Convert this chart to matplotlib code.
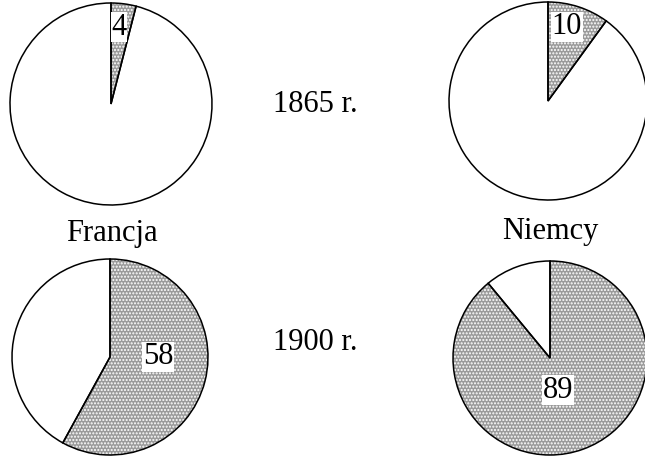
import matplotlib
matplotlib.use("Agg")
import matplotlib.pyplot as plt

plt.rcParams["font.family"] = ["Liberation Serif", "DejaVu Serif"]

# ── dane ──────────────────────────────────────────────────────────────────────
countries = ["Francja", "Niemcy"]
years = ["1865 r.", "1900 r."]
share_1865 = [4, 10]
share_1900 = [58, 89]

W, H = 645, 459
fig = plt.figure(figsize=(W / 100, H / 100), dpi=100)

# (środek x, środek y, promień) w pikselach, y od góry
boxes = {
    (0, 0): (111, 104, 101),
    (0, 1): (548, 101, 99),
    (1, 0): (110, 357, 98),
    (1, 1): (550, 358, 97),
}
# położenie etykiet liczbowych względem środka (jednostki promienia)
label_pos = {
    (0, 0): (0.08, 0.76),
    (0, 1): (0.19, 0.75),
    (1, 0): (0.49, 0.0),
    (1, 1): (0.08, -0.33),
}

values = [share_1865, share_1900]

for (row, col), (cx, cy, r) in boxes.items():
    ax = fig.add_axes([(cx - r - 2) / W, (H - cy - r - 2) / H,
                       (2 * r + 4) / W, (2 * r + 4) / H])
    v = values[row][col]
    lim = (r + 2) / r
    # wypełnienie kropkowane
    wedges, _ = ax.pie([v, 100 - v], startangle=90, counterclock=False,
                       colors=["#9a9a9a", "white"], radius=1,
                       wedgeprops=dict(edgecolor="white", linewidth=0))
    wedges[0].set_hatch(".....")
    # kontury
    ax.pie([v, 100 - v], startangle=90, counterclock=False, radius=1,
           wedgeprops=dict(facecolor="none", edgecolor="black", linewidth=1.1))
    lx, ly = label_pos[(row, col)]
    ax.text(lx, ly, str(v), ha="center", va="center", fontsize=22,
            bbox=dict(facecolor="white", edgecolor="none", pad=0.5))
    ax.set_xlim(-lim, lim)
    ax.set_ylim(-lim, lim)
    ax.set_aspect("auto")
    ax.axis("off")

fig.text(315 / W, 1 - 105 / H, years[0], ha="center", va="center", fontsize=22)
fig.text(315 / W, 1 - 342 / H, years[1], ha="center", va="center", fontsize=22)
fig.text(112 / W, 1 - 234 / H, countries[0], ha="center", va="center", fontsize=22)
fig.text(550 / W, 1 - 232 / H, countries[1], ha="center", va="center", fontsize=22)

fig.savefig("out.png", dpi=100)
